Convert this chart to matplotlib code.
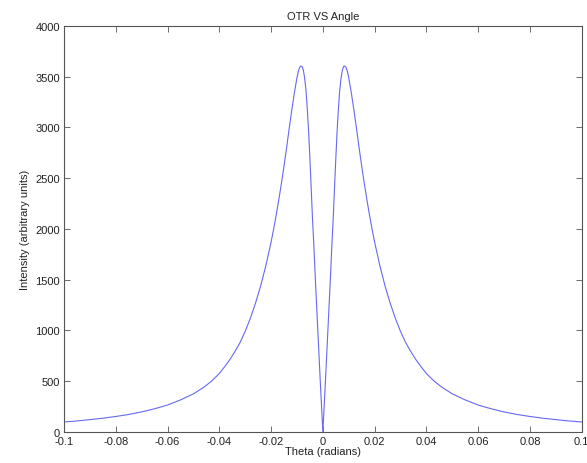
import numpy as np
import matplotlib
matplotlib.use('Agg')
import matplotlib.pyplot as plt

plt.rcParams['font.family'] = ['Liberation Sans', 'DejaVu Sans']
plt.rcParams['font.size'] = 8

# valeurs (theta en radians, intensite en unites arbitraires)
theta = [-0.100, -0.095, -0.090, -0.085, -0.080, -0.075, -0.070, -0.065,
         -0.060, -0.055, -0.050, -0.046, -0.043, -0.040, -0.038, -0.036,
         -0.034, -0.032, -0.030, -0.028, -0.026, -0.024, -0.022, -0.020,
         -0.019, -0.018, -0.017, -0.016, -0.015, -0.014, -0.013, -0.012,
         -0.011, -0.010, -0.0095, -0.009, -0.0085, -0.008, -0.0075, -0.007,
         -0.0065, -0.006, -0.0055, -0.005, -0.0045, -0.004, -0.0035, -0.003,
         -0.002, -0.001, 0.0,
         0.001, 0.002, 0.003, 0.0035, 0.004, 0.0045, 0.005, 0.0055,
         0.006, 0.0065, 0.007, 0.0075, 0.008, 0.0085, 0.009, 0.0095,
         0.010, 0.011, 0.012, 0.013, 0.014, 0.015, 0.016, 0.017,
         0.018, 0.019, 0.020, 0.022, 0.024, 0.026, 0.028, 0.030,
         0.032, 0.034, 0.036, 0.038, 0.040, 0.043, 0.046, 0.050,
         0.055, 0.060, 0.065, 0.070, 0.075, 0.080, 0.085, 0.090,
         0.095, 0.100]
intensity = [98, 108, 121, 135, 152, 172, 197, 228,
             265, 315, 375, 440, 500, 575, 640, 710,
             790, 880, 990, 1120, 1270, 1440, 1640, 1870,
             2000, 2140, 2290, 2450, 2620, 2800, 2990, 3170,
             3340, 3490, 3550, 3590, 3605, 3600, 3560, 3480,
             3360, 3180, 2960, 2690, 2400, 2100, 1850, 1560,
             1030, 500, 0,
             500, 1030, 1560, 1850, 2100, 2400, 2690, 2960,
             3180, 3360, 3480, 3560, 3600, 3605, 3590, 3550,
             3490, 3340, 3170, 2990, 2800, 2620, 2450, 2290,
             2140, 2000, 1870, 1640, 1440, 1270, 1120, 990,
             880, 790, 710, 640, 575, 500, 440, 375,
             315, 265, 228, 197, 172, 152, 135, 121,
             108, 98]

xticks = [-0.1, -0.08, -0.06, -0.04, -0.02, 0, 0.02, 0.04, 0.06, 0.08, 0.1]
xticklabels = ['-0.1', '-0.08', '-0.06', '-0.04', '-0.02', '0',
               '0.02', '0.04', '0.06', '0.08', '0.1']
yticks = [0, 500, 1000, 1500, 2000, 2500, 3000, 3500, 4000]

fig = plt.figure(figsize=(5.87, 4.64), dpi=100)
ax = fig.add_axes([0.109, 0.067, 0.882, 0.875])

ax.plot(theta, intensity, color='#6868f2', linewidth=0.8)

ax.set_xlim(-0.1, 0.1)
ax.set_ylim(0, 4000)
ax.set_xticks(xticks)
ax.set_xticklabels(xticklabels)
ax.set_yticks(yticks)
ax.tick_params(direction='in', top=True, right=True, length=4,
               width=0.6, color='#555555', labelcolor='#222222', pad=3)
for s in ax.spines.values():
    s.set_color('#555555')
    s.set_linewidth(0.8)

ax.set_title('OTR VS Angle', fontsize=8, pad=5, color='#222222')
ax.set_xlabel('Theta (radians)', labelpad=0, color='#222222')
ax.set_ylabel('Intensity (arbitrary units)', labelpad=4, color='#222222')

fig.savefig('out.png', dpi=100)
